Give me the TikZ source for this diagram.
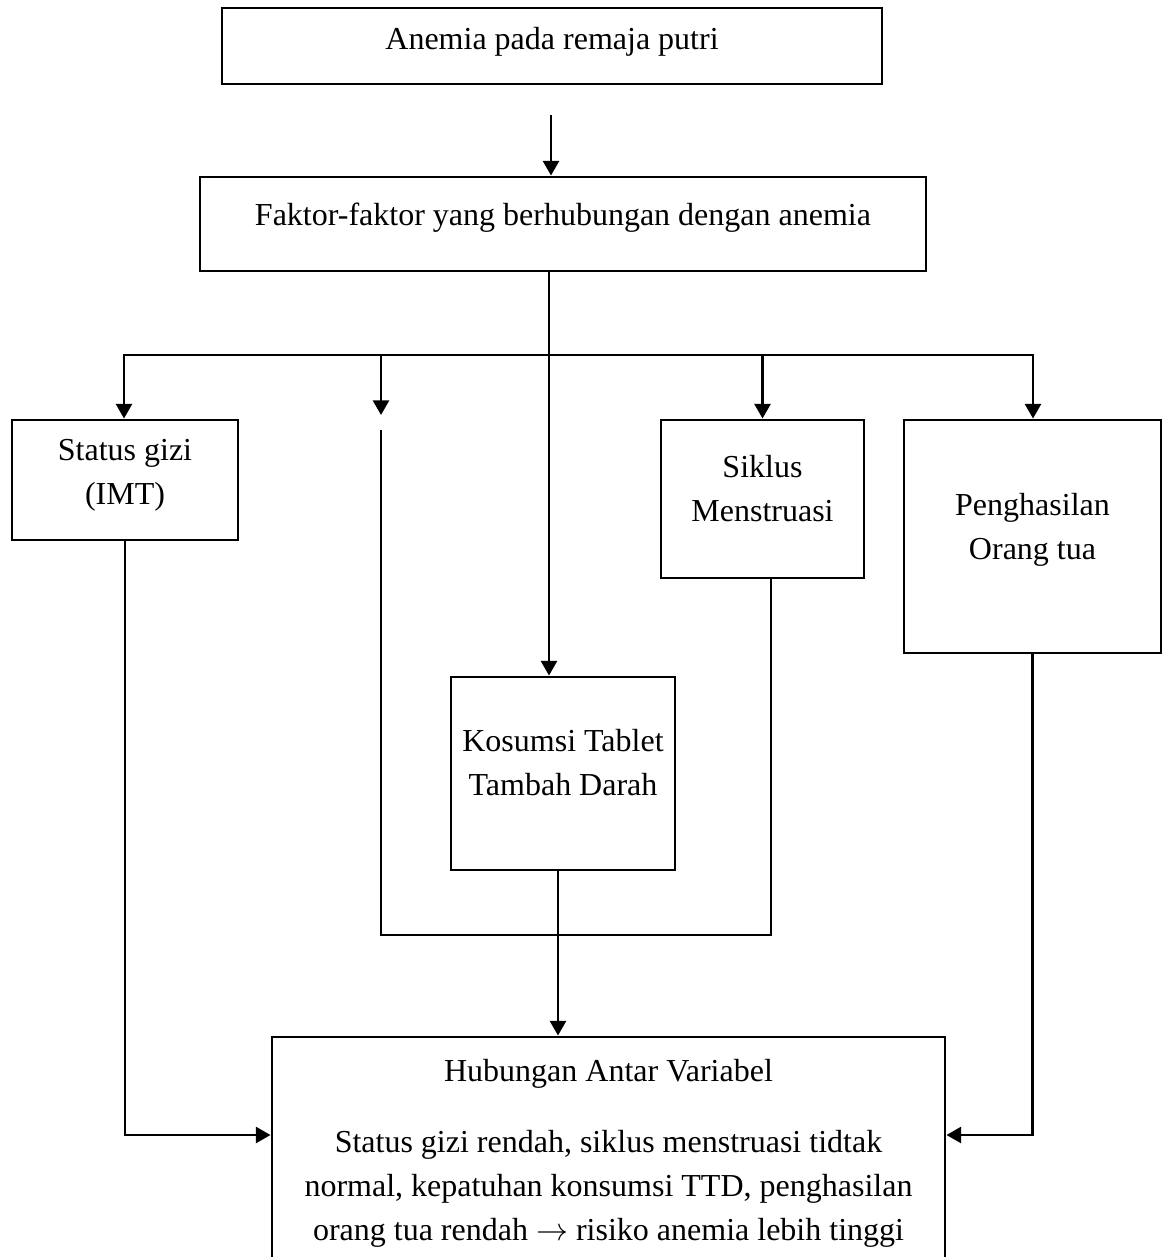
\documentclass[tikz,border=0pt]{standalone}
\usepackage{fontspec}
\setmainfont{Liberation Serif}
\usetikzlibrary{positioning,arrows.meta,calc}
\newcommand{\px}{*0.375pt}
\newcommand{\lowpad}[1]{\rule[-#1]{0pt}{#1}}

\begin{document}
\begin{tikzpicture}[x=0.375pt, y=-0.375pt,
  box/.style={draw, rectangle, line width=1.1pt, inner sep=0pt, align=center,
              font=\fontsize{12}{16.5}\selectfont},
  ar/.style={-{Triangle[length=5.5pt, width=6pt]}, line width=1pt},
  arr2/.style={{Triangle[length=5.5pt, width=6pt]}-{Triangle[length=5.5pt, width=6pt]}, line width=1pt},
  ln/.style={line width=1pt},
]
\useasboundingbox (0,0) rectangle (1170,1257);
\clip (0,0) rectangle (1170,1257);

% boxes
\node[box, minimum width=660\px, minimum height=76\px] (anem) at (552,46)
    {Anemia pada remaja putri\lowpad{6pt}};
\node[box, minimum width=726\px, minimum height=94\px] (faktor) at (563,224)
    {Faktor-faktor yang berhubungan dengan anemia\lowpad{7.5pt}};
\node[box, minimum width=226\px, minimum height=120\px] (gizi) at (125,480)
    {Status gizi\\(IMT)\lowpad{6pt}};
\node[box, minimum width=203\px, minimum height=158\px] (siklus) at (762.5,499)
    {Siklus\\Menstruasi\lowpad{8.25pt}};
\node[box, minimum width=257\px, minimum height=233\px] (hasil) at (1032.5,536.5)
    {Penghasilan\\Orang tua\lowpad{7.6pt}};
\node[box, minimum width=224\px, minimum height=193\px] (tablet) at (563,773.5)
    {Kosumsi Tablet\\Tambah Darah\lowpad{8.1pt}};
\node[box, minimum width=673\px, minimum height=238\px] (hub) at (608.5,1156)
    {Hubungan Antar Variabel\\[10pt]
     Status gizi rendah, siklus menstruasi tidtak\\
     normal, kepatuhan konsumsi TTD, penghasilan\\
     orang tua rendah $\rightarrow$ risiko anemia lebih tinggi\lowpad{4.6pt}};

% junction points
\coordinate (a1)   at (551,115);
\coordinate (busL) at (124,355);
\coordinate (busR) at (1033,355);
\coordinate (open) at (381,415);
\coordinate (c1)   at (381,430);
\coordinate (c2)   at (381,935);
\coordinate (sk) at ($(siklus.south)+(8.5,0)$);
\coordinate (fk) at ($(faktor.south)+(-14,0)$);
\coordinate (tb) at ($(tablet.south)+(-5,0)$);

% connectors
\draw[ar] (a1) -- (a1 |- faktor.north);
\draw[ar] (fk) -- (fk |- tablet.north);
\draw[arr2] (busR |- hasil.north) -- (busR) -- (busL) -- (busL |- gizi.north);
\draw[ar] (open |- busL) -- (open);
\draw[ar] (siklus.north |- busL) -- (siklus.north);
\draw[ln] (c1) -- (c2) -| (sk);
\draw[ar] (tb) -- (tb |- hub.north);
\draw[ar] (gizi.south) |- ($(hub.west)+(0,-21)$);
\draw[ar] (hasil.south) |- ($(hub.east)+(0,-21)$);
\end{tikzpicture}
\end{document}
